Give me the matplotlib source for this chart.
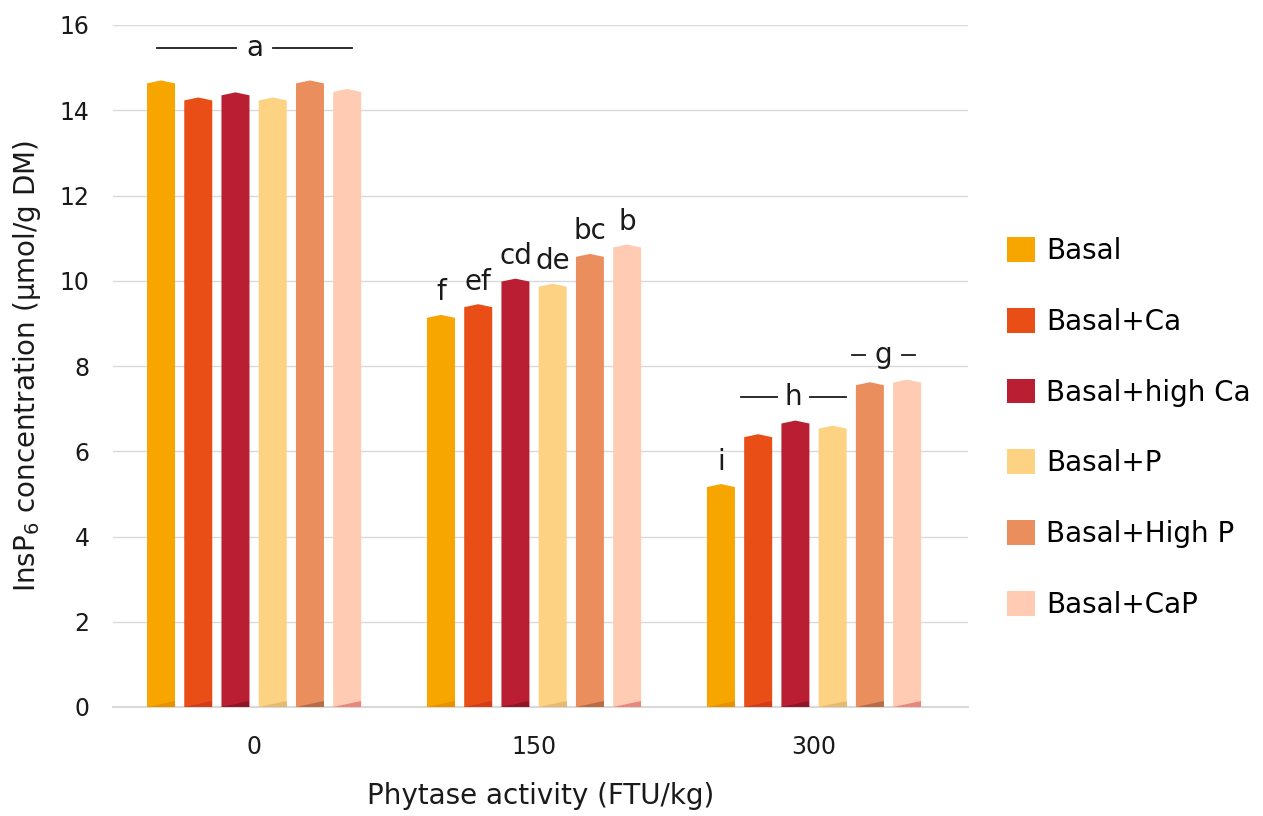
import numpy as np
import matplotlib.pyplot as plt
from matplotlib.patches import Polygon, Patch

plt.rcParams['font.family'] = ['DejaVu Sans']

#Données
doses = ['0', '150', '300']
series = ['Basal', 'Basal+Ca', 'Basal+high Ca', 'Basal+P', 'Basal+High P', 'Basal+CaP']
values = [
    [14.70, 9.20, 5.23],
    [14.30, 9.45, 6.40],
    [14.42, 10.05, 6.72],
    [14.30, 9.93, 6.60],
    [14.70, 10.63, 7.62],
    [14.50, 10.85, 7.68],
]
letters_150 = ['f', 'ef', 'cd', 'de', 'bc', 'b']
letters_300 = ['i', '', '', '', '', '']
colors = ['#F7A600', '#E84E16', '#BA1E33', '#FDD282', '#EA8E5E', '#FFCBB2']
darks = ['#E08A00', '#C8361A', '#7A1425', '#D9B06A', '#A0603E', '#E06A6A']
txtc = '#1a1a1a'

fig = plt.figure(figsize=(12.63, 8.16), dpi=100)
ax = fig.add_axes([113/1263, 1 - 707/816, 855/1263, 682/816])

w = 0.1
step = 0.133
peak = 0.07
x = np.arange(len(doses))
for i, s in enumerate(series):
    xs = x + (i - 2.5) * step
    for j, v in enumerate(values[i]):
        xc = xs[j]
        pts = [(xc - w/2, 0), (xc + w/2, 0), (xc + w/2, v - peak), (xc, v), (xc - w/2, v - peak)]
        ax.add_patch(Polygon(pts, closed=True, facecolor=colors[i], edgecolor='none', zorder=3))
        # petit biseau sombre en bas
        wedge = [(xc - w/2, 0), (xc + w/2, 0), (xc + w/2, 0.15)]
        ax.add_patch(Polygon(wedge, closed=True, facecolor=darks[i], edgecolor='none', alpha=0.7, zorder=4))
        if j == 1:
            ax.text(xc, v + 0.2, letters_150[i], ha='center', va='bottom', fontsize=20, color=txtc)
        if j == 2 and letters_300[i]:
            ax.text(xc, v + 0.2, letters_300[i], ha='center', va='bottom', fontsize=20, color=txtc)

# lettres de groupe avec traits
def group_label(x0, x1, y, txt, gap):
    xm = (x0 + x1) / 2
    ax.plot([x0, xm - gap], [y, y], color=txtc, lw=1.3, zorder=5)
    ax.plot([xm + gap, x1], [y, y], color=txtc, lw=1.3, zorder=5)
    ax.text(xm, y, txt, ha='center', va='center', fontsize=20, color=txtc)

px = 280  # pixels par groupe
x0px = 254
group_label((157 - x0px) / px, (352 - x0px) / px, 15.47, 'a', 0.065)
group_label((741 - x0px) / px, (846 - x0px) / px, 7.28, 'h', 0.06)
group_label((852 - x0px) / px, (915 - x0px) / px, 8.26, 'g', 0.065)

ax.set_xlim(-0.504, 2.55)
ax.set_ylim(0, 16)
ax.set_yticks(np.arange(0, 17, 2))
ax.set_xticks(x)
ax.set_xticklabels(doses)
ax.tick_params(axis='both', length=0, labelsize=17, colors=txtc)
ax.tick_params(axis='y', pad=17)
ax.tick_params(axis='x', pad=20)
ax.grid(axis='y', color='#D9D9D9', lw=1)
ax.set_axisbelow(True)
for sp in ['top', 'right', 'left']:
    ax.spines[sp].set_visible(False)
ax.spines['bottom'].set_color('#D9D9D9')
ax.spines['bottom'].set_linewidth(1.5)

ax.set_ylabel('InsP$_6$ concentration (µmol/g DM)', fontsize=20, color=txtc, labelpad=12)
ax.set_xlabel('Phytase activity (FTU/kg)', fontsize=20, color=txtc, labelpad=17)

handles = [Patch(facecolor=c, edgecolor='none') for c in colors]
fig.legend(handles, series, loc='upper left', bbox_to_anchor=(982/1263, 1 - 212/816),
           frameon=False, fontsize=20, handlelength=1.0, handleheight=1.0,
           labelspacing=1.54, handletextpad=0.42)

plt.savefig('out.png', dpi=100)
